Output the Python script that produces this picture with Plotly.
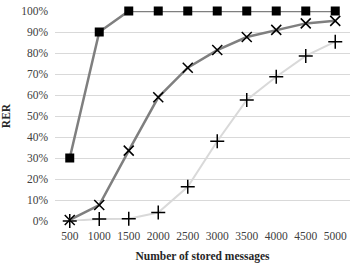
import plotly.graph_objects as go

categories = ["500", "1000", "1500", "2000", "2500", "3000", "3500", "4000", "4500", "5000"]
series_square = [0.30, 0.90, 1.00, 1.00, 1.00, 1.00, 1.00, 1.00, 1.00, 1.00]
series_x = [0.005, 0.076, 0.335, 0.589, 0.73, 0.814, 0.876, 0.91, 0.941, 0.953]
series_plus = [0.0, 0.01, 0.011, 0.04, 0.163, 0.38, 0.576, 0.687, 0.786, 0.854]
y_ticks = [i / 10 for i in range(11)]

font_family = "Liberation Serif"

fig = go.Figure()
fig.add_trace(go.Scatter(x=categories, y=series_plus, mode="lines+markers", cliponaxis=False,
                         line=dict(color="#d9d9d9", width=2),
                         marker=dict(symbol="cross-thin", size=10, color="black",
                                     line=dict(color="black", width=1.5))))
fig.add_trace(go.Scatter(x=categories, y=series_x, mode="lines+markers", cliponaxis=False,
                         line=dict(color="#7f7f7f", width=2.5),
                         marker=dict(symbol="x-thin", size=10, color="black",
                                     line=dict(color="black", width=1.5))))
fig.add_trace(go.Scatter(x=categories, y=series_square, mode="lines+markers", cliponaxis=False,
                         line=dict(color="#7f7f7f", width=2.5),
                         marker=dict(symbol="square", size=9, color="black")))

fig.update_layout(
    width=350, height=264,
    margin=dict(l=55, r=0, t=11, b=43),
    paper_bgcolor="white", plot_bgcolor="white",
    showlegend=False,
    font=dict(family=font_family, size=11.5, color="#404040"),
    xaxis=dict(type="category", range=[-0.5, 9.5], showgrid=False, showline=False,
               zeroline=False, ticks="", ticklabelstandoff=6,
               tickfont=dict(size=11.5, color="#404040"),
               title=dict(text="<b>Number of stored messages</b>", standoff=11,
                          font=dict(size=11.5, color="#262626"))),
    yaxis=dict(range=[0, 1.0], tickvals=y_ticks, tickformat=".0%", showgrid=True,
               gridcolor="#d9d9d9", gridwidth=1, zeroline=False, showline=False,
               ticks="", ticklabelstandoff=6, tickfont=dict(size=11.5, color="#404040"),
               title=dict(text="<b>RER</b>", standoff=10,
                          font=dict(size=11.5, color="#262626"))),
)
fig.write_html("out.html")
